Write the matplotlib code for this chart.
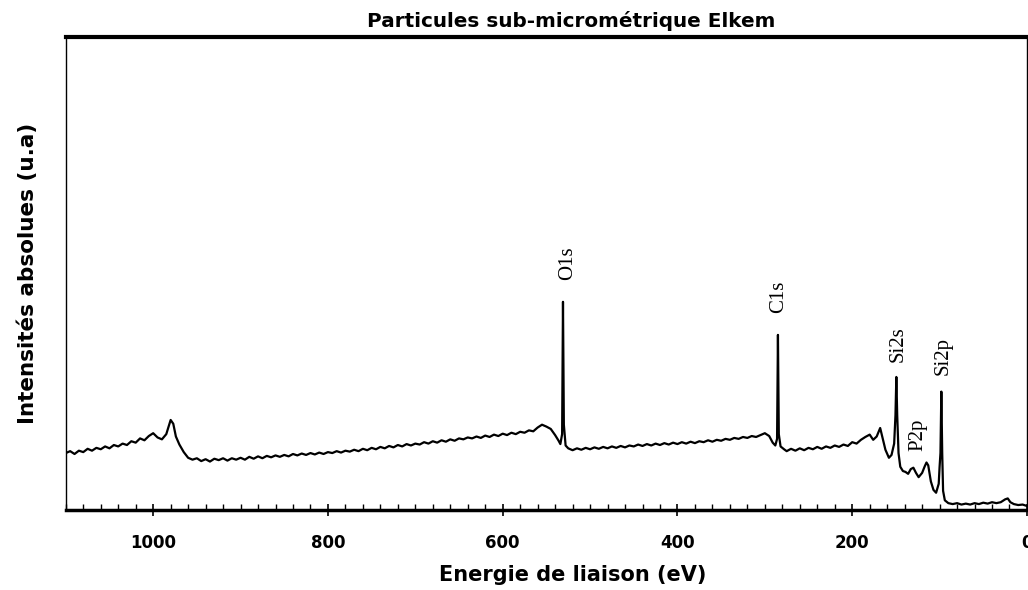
import matplotlib
matplotlib.use("Agg")
import matplotlib.pyplot as plt
from matplotlib.ticker import MultipleLocator

# XPS survey spectrum, binding energy (eV) vs intensity (a.u.)
energy = [
    1100, 1095, 1090, 1085, 1080, 1075, 1070, 1065, 1060, 1055, 1050, 1045, 1040, 1035,
    1030, 1025, 1020, 1015, 1010, 1005, 1000, 995, 990, 985, 980, 977, 974, 970, 965,
    960, 955, 950, 945, 940, 935, 930, 925, 920, 915, 910, 905, 900, 895, 890, 885,
    880, 875, 870, 865, 860, 855, 850, 845, 840, 835, 830, 825, 820, 815, 810, 805,
    800, 795, 790, 785, 780, 775, 770, 765, 760, 755, 750, 745, 740, 735, 730, 725,
    720, 715, 710, 705, 700, 695, 690, 685, 680, 675, 670, 665, 660, 655, 650, 645,
    640, 635, 630, 625, 620, 615, 610, 605, 600, 595, 590, 585, 580, 575, 570, 565,
    560, 555, 550, 545, 540, 536, 534, 532, 531.5, 531, 530.5, 530, 528, 525, 520,
    515, 510, 505, 500, 495, 490, 485, 480, 475, 470, 465, 460, 455, 450, 445, 440,
    435, 430, 425, 420, 415, 410, 405, 400, 395, 390, 385, 380, 375, 370, 365, 360,
    355, 350, 345, 340, 335, 330, 325, 320, 315, 310, 305, 300, 295, 291, 288, 286,
    285.5, 285, 284.5, 284, 282, 278, 275, 270, 265, 260, 255, 250, 245, 240, 235,
    230, 225, 220, 215, 210, 205, 200, 195, 190, 185, 180, 176, 172, 168, 165, 162,
    158, 155, 152, 150.5, 149.5, 148.5, 147, 145, 142, 139, 136, 133, 130, 127, 124,
    120, 117, 115, 113, 110, 107, 104, 101, 100, 99, 98, 97, 96, 94, 90, 85, 80, 75,
    70, 65, 60, 55, 50, 45, 40, 35, 30, 25, 22, 19, 15, 10, 5, 0,
]
intensity = [
    12.0, 12.4, 11.8, 12.5, 12.2, 12.9, 12.5, 13.1, 12.8, 13.4, 13.0, 13.7, 13.4, 14.0,
    13.7, 14.5, 14.2, 15.1, 14.7, 15.6, 16.2, 15.3, 14.9, 16.0, 19.0, 18.2, 15.5, 13.8, 12.2,
    11.0, 10.6, 10.9, 10.3, 10.7, 10.2, 10.8, 10.5, 10.9, 10.4, 10.9, 10.6, 11.0, 10.6, 11.2, 10.8,
    11.3, 10.9, 11.4, 11.1, 11.5, 11.2, 11.6, 11.3, 11.8, 11.5, 11.9, 11.6, 12.0, 11.7, 12.1, 11.8,
    12.2, 12.0, 12.4, 12.1, 12.5, 12.3, 12.7, 12.4, 12.9, 12.6, 13.1, 12.8, 13.3, 13.0, 13.5, 13.2,
    13.7, 13.4, 13.9, 13.6, 14.0, 13.8, 14.3, 14.0, 14.5, 14.2, 14.7, 14.4, 14.9, 14.6, 15.1, 14.9,
    15.3, 15.1, 15.5, 15.2, 15.7, 15.4, 15.9, 15.6, 16.1, 15.8, 16.3, 16.0, 16.5, 16.3, 16.8, 16.6,
    17.4, 18.0, 17.6, 17.1, 15.8, 14.6, 13.9, 16.0, 30.0, 44.0, 30.0, 18.0, 13.6, 13.0, 12.6,
    13.0, 12.7, 13.1, 12.8, 13.2, 12.9, 13.3, 13.0, 13.4, 13.1, 13.5, 13.2, 13.6, 13.4, 13.8, 13.5,
    13.9, 13.6, 14.0, 13.7, 14.1, 13.8, 14.2, 13.9, 14.3, 14.0, 14.4, 14.1, 14.5, 14.3, 14.7, 14.4,
    14.8, 14.6, 15.0, 14.8, 15.2, 15.0, 15.4, 15.2, 15.6, 15.4, 15.8, 16.2, 15.6, 14.2, 13.6, 15.0,
    25.0, 37.0, 25.0, 16.0, 13.4, 12.8, 12.4, 12.9, 12.5, 13.0, 12.6, 13.1, 12.8, 13.3, 12.9,
    13.4, 13.1, 13.6, 13.3, 13.8, 13.5, 14.3, 14.0, 14.8, 15.4, 15.9, 14.8, 15.5, 17.3, 15.0, 12.7,
    11.0, 11.6, 14.0, 20.0, 28.1, 20.0, 12.0, 9.1, 8.2, 8.0, 7.6, 8.6, 8.9, 7.8, 6.9,
    7.8, 9.2, 10.0, 9.4, 6.0, 4.2, 3.6, 5.5, 9.1, 12.0, 25.0, 12.0, 4.0, 2.0, 1.4, 1.2, 1.4, 1.1,
    1.3, 1.1, 1.4, 1.2, 1.5, 1.3, 1.6, 1.4, 1.6, 2.2, 2.4, 1.6, 1.2, 1.0, 1.1, 0.8,
]

# peak annotations: label, energy, height
peak_names = ["O1s", "C1s", "Si2s", "Si2p", "P2p"]
peak_x = [526, 284, 147, 96, 125]
peak_y = [52.2, 45.0, 35.0, 32.6, 15.9]

sans = "DejaVu Sans"
serif = "Liberation Serif"

fig = plt.figure(figsize=(10.28, 5.90), dpi=100)
ax = fig.add_axes([0.064, 0.136, 0.935, 0.801])

ax.plot(energy, intensity, color="black", linewidth=1.6)

for name, x, y in zip(peak_names, peak_x, peak_y):
    ax.text(x, y, name, rotation=90, ha="center", va="center",
            fontsize=15, family=serif)

ax.set_xlim(1100, 0)
ax.set_ylim(0, 100)
ax.set_yticks([])

ax.xaxis.set_major_locator(MultipleLocator(200))
ax.xaxis.set_minor_locator(MultipleLocator(20))
ax.tick_params(axis="x", which="major", direction="inout", length=9, width=1.2,
               pad=13, labelsize=12)
ax.tick_params(axis="x", which="minor", direction="in", length=4, width=1)
for lab in ax.get_xticklabels():
    lab.set_family(sans)
    lab.set_fontweight("bold")

ax.spines["bottom"].set_linewidth(2.5)
ax.spines["top"].set_linewidth(3.0)
ax.spines["left"].set_linewidth(1.0)
ax.spines["right"].set_linewidth(1.0)

ax.set_xlabel("Energie de liaison (eV)", fontsize=15, fontweight="bold",
              family=sans, labelpad=9, x=0.527)
ax.set_ylabel("Intensités absolues (u.a)", fontsize=15.5, fontweight="bold",
              family=sans, labelpad=20)
ax.set_title("Particules sub-micrométrique Elkem", fontsize=14.4, fontweight="bold",
             family=sans, pad=7, x=0.526)

fig.savefig("out.png", dpi=100)
